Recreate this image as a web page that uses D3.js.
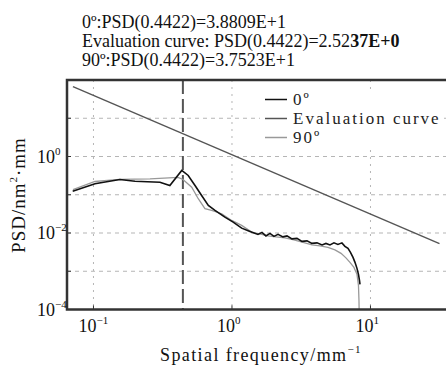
<!DOCTYPE html>
<html>
<head>
<meta charset="utf-8">
<script src="https://cdn.jsdelivr.net/npm/d3@7"></script>
</head>
<body>
<div id="chart"></div>
<script>
// PSD curves at 0 and 90 degrees, with evaluation curve (log-log)

// 0 deg curve
const freq0 = [0.0708, 0.1025, 0.155, 0.1995, 0.302, 0.356, 0.434, 0.483, 0.541, 0.604, 0.675, 0.754,
    0.889, 1.02, 1.175, 1.349, 1.541, 1.647, 1.759, 1.881, 2.01, 2.15, 2.335, 2.496, 2.711, 2.946,
    3.2, 3.48, 3.78, 4.11, 4.47, 4.77, 5.1, 5.45, 5.82, 6.22, 6.54, 6.88, 7.17, 7.48, 7.73, 7.99,
    8.19, 8.33, 8.40];
const psd0 = [0.124, 0.194, 0.251, 0.226, 0.213, 0.175, 0.431, 0.319, 0.175, 0.0959, 0.0526, 0.0389,
    0.026, 0.0193, 0.0134, 0.0110, 0.00919, 0.01037, 0.0084, 0.00977, 0.00815, 0.00919, 0.00791,
    0.0084, 0.00702, 0.00723, 0.00604, 0.00622, 0.00535, 0.00552, 0.00489, 0.00535, 0.00489,
    0.00552, 0.00504, 0.00552, 0.00447, 0.00396, 0.00311, 0.00231, 0.00171, 0.00119, 0.00083,
    0.000578, 0.000455];

// 90 deg curve
const freq90 = [0.0711, 0.1025, 0.155, 0.256, 0.408, 0.443, 0.512, 0.571, 0.638, 0.713, 0.843, 0.995,
    1.175, 1.387, 1.638, 1.82, 2.08, 2.41, 2.80, 3.26, 3.78, 4.32, 4.93, 5.54, 6.13, 6.65, 7.11,
    7.60, 7.99, 8.19, 8.26, 8.28];
const psd90 = [0.137, 0.222, 0.251, 0.259, 0.283, 0.251, 0.158, 0.0787, 0.0431, 0.0389, 0.0319, 0.0213,
    0.0158, 0.0106, 0.00919, 0.0084, 0.00791, 0.00745, 0.0066, 0.00569, 0.00489, 0.0046, 0.00421,
    0.00362, 0.00293, 0.00224, 0.00171, 0.00126, 0.00083, 0.000428, 0.000174, 0.0001];

// evaluation curve (straight line in log-log)
const freqEval = [0.0711, 31.5];
const psdEval = [67.3, 0.0053];

const markFreq = 0.4422;

const xTicks = [0.1, 1, 10];
const xTickExp = ["-1", "0", "1"];
const yTicks = [1, 0.01, 0.0001];
const yTickExp = ["0", "-2", "-4"];
const yGrid = [10, 1, 0.1, 0.01, 0.001];

const titleLines = [
    ["0º:PSD(0.4422)=3.8809E+1", ""],
    ["Evaluation curve: PSD(0.4422)=2.52", "37E+0"],
    ["90º:PSD(0.4422)=3.7523E+1", ""]
];
const legendNames = ["0º", "Evaluation curve", "90º"];
const legendColors = ["#111", "#555", "#999"];

const W = 446, H = 365;
const pLeft = 67, pRight = 446, pTop = 80, pBottom = 309.5;
const SERIF = "Liberation Serif";

document.body.style.margin = "0";

const svg = d3.select("#chart").append("svg")
    .attr("width", W).attr("height", H);

const x = d3.scaleLog().domain([0.0644, 35.1]).range([pLeft, pRight]);
const y = d3.scaleLog().domain([1e-4, 1e2]).range([pBottom, pTop]);

// header text
titleLines.forEach((t, i) => {
    const txt = svg.append("text")
        .attr("font-family", SERIF)
        .attr("font-size", 18)
        .attr("x", 82).attr("y", 28 + i * 19)
        .attr("fill", "#111");
    txt.append("tspan").text(t[0]);
    if (t[1]) txt.append("tspan").attr("font-weight", "bold").text(t[1]);
});

// grid
svg.append("g").selectAll("line")
    .data(yGrid).join("line")
    .attr("x1", pLeft).attr("x2", pRight)
    .attr("y1", d => y(d)).attr("y2", d => y(d))
    .attr("stroke", "#b5b5b5").attr("stroke-width", 1)
    .attr("stroke-dasharray", "4,4");

svg.append("g").selectAll("line")
    .data(xTicks).join("line")
    .attr("x1", d => x(d)).attr("x2", d => x(d))
    .attr("y1", pTop).attr("y2", pBottom)
    .attr("stroke", "#b5b5b5").attr("stroke-width", 1)
    .attr("stroke-dasharray", "2,5");

// marker line at 0.4422
svg.append("line")
    .attr("x1", x(markFreq)).attr("x2", x(markFreq))
    .attr("y1", pTop).attr("y2", pBottom)
    .attr("stroke", "#555").attr("stroke-width", 2)
    .attr("stroke-dasharray", "14,5");

const line = d3.line()
    .x(d => x(d[0]))
    .y(d => y(d[1]));

svg.append("path")
    .datum(d3.zip(freqEval, psdEval))
    .attr("fill", "none").attr("stroke", "#555").attr("stroke-width", 1.4)
    .attr("d", line);

svg.append("path")
    .datum(d3.zip(freq90, psd90))
    .attr("fill", "none").attr("stroke", "#999").attr("stroke-width", 1.3)
    .attr("d", line);

svg.append("path")
    .datum(d3.zip(freq0, psd0))
    .attr("fill", "none").attr("stroke", "#111").attr("stroke-width", 1.6)
    .attr("d", line);

// legend
const legend = svg.append("g");
legend.append("rect")
    .attr("x", 260).attr("y", 89).attr("width", 184).attr("height", 56)
    .attr("fill", "#fff");
legendNames.forEach((n, i) => {
    const ly = 99.5 + i * 19;
    legend.append("line")
        .attr("x1", 265).attr("x2", 287)
        .attr("y1", ly).attr("y2", ly)
        .attr("stroke", legendColors[i]).attr("stroke-width", 1.5);
    legend.append("text")
        .attr("font-family", SERIF)
        .attr("font-size", 17)
        .attr("x", 293).attr("y", ly + 5.5)
        .attr("letter-spacing", 2)
        .attr("fill", "#222")
        .text(n);
});

// frame
svg.append("path")
    .attr("d", `M${pRight},${pTop}H${pLeft}V${pBottom}H${pRight}`)
    .attr("fill", "none").attr("stroke", "#333").attr("stroke-width", 2.5);

// ticks
svg.append("g").selectAll("line")
    .data(yGrid.concat([1e-4]))
    .join("line")
    .attr("x1", pLeft).attr("x2", pLeft + 4)
    .attr("y1", d => y(d)).attr("y2", d => y(d))
    .attr("stroke", "#333").attr("stroke-width", 1);

svg.append("g").selectAll("line")
    .data(xTicks).join("line")
    .attr("x1", d => x(d)).attr("x2", d => x(d))
    .attr("y1", pBottom).attr("y2", pBottom - 4)
    .attr("stroke", "#333").attr("stroke-width", 1);

// x tick labels
xTicks.forEach((t, i) => {
    const txt = svg.append("text")
        .attr("font-family", SERIF)
        .attr("font-size", 18)
        .attr("x", x(t) - 15).attr("y", 332)
        .attr("fill", "#111");
    txt.append("tspan").text("10");
    txt.append("tspan").attr("dy", -8).attr("font-size", 11)
        .text(xTickExp[i].replace("-", "\u2212"));
});

// y tick labels
yTicks.forEach((t, i) => {
    const txt = svg.append("text")
        .attr("font-family", SERIF)
        .attr("font-size", 18)
        .attr("x", 37).attr("y", y(t) + 6)
        .attr("fill", "#111");
    txt.append("tspan").text("10");
    txt.append("tspan").attr("dy", -8).attr("font-size", 11)
        .text(yTickExp[i].replace("-", "\u2212"));
});

// axis labels
const xl = svg.append("text")
    .attr("font-family", SERIF)
    .attr("font-size", 18)
    .attr("x", 160).attr("y", 361)
    .attr("letter-spacing", 1.4).attr("fill", "#111");
xl.append("tspan").text("Spatial frequency/mm");
xl.append("tspan").attr("dy", -8).attr("font-size", 11).text("\u22121");

const yl = svg.append("text")
    .attr("font-family", SERIF)
    .attr("font-size", 19)
    .attr("transform", "translate(25,195) rotate(-90)")
    .attr("text-anchor", "middle")
    .attr("letter-spacing", 1).attr("fill", "#111");
yl.append("tspan").text("PSD/nm");
yl.append("tspan").attr("dy", -8).attr("font-size", 11).text("2");
yl.append("tspan").attr("dy", 8).text("·mm");
</script>
</body>
</html>
